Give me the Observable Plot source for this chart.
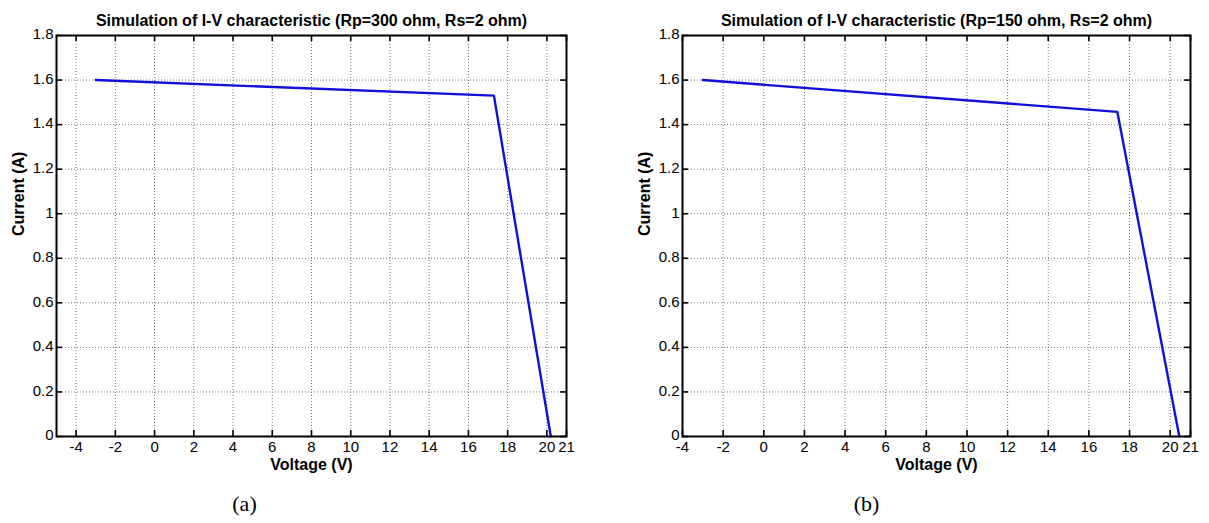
<!DOCTYPE html>
<html>
<head>
<meta charset="utf-8">
<script src="https://cdn.jsdelivr.net/npm/d3@7"></script>
<script src="https://cdn.jsdelivr.net/npm/@observablehq/plot@0.6"></script>
<style>
  html, body { margin: 0; padding: 0; background: #fff; }
  #wrap { display: flex; flex-direction: row; width: 1209px; height: 523px; overflow: hidden; }
  svg { display: block; }
</style>
</head>
<body>
<div id="wrap"></div>
<script>
// Panel (a): Rp = 300 ohm
const voltageA = [-3, 17.3, 20.2];
const currentA = [1.6, 1.53, 0];
// Panel (b): Rp = 150 ohm
const voltageB = [-3, 17.4, 20.45];
const currentB = [1.6, 1.457, 0];

const titleA = "Simulation of I-V characteristic (Rp=300 ohm, Rs=2 ohm)";
const titleB = "Simulation of I-V characteristic (Rp=150 ohm, Rs=2 ohm)";
const captionA = "(a)";
const captionB = "(b)";
const xLabel = "Voltage (V)";
const yLabel = "Current (A)";

const xTicks = [-4, -2, 0, 2, 4, 6, 8, 10, 12, 14, 16, 18, 20, 21];
const yTicks = [0, 0.2, 0.4, 0.6, 0.8, 1, 1.2, 1.4, 1.6, 1.8];
const xDomainA = [-5, 21];
const xDomainB = [-4, 21];
const yDomain = [0, 1.8];

const SANS = "'Liberation Sans', Arial, sans-serif";
const SERIF = "'Liberation Serif', 'Times New Roman', serif";

function panel({volt, curr, title, caption, xDomain, width, marginLeft, marginRight, captionDx}) {
  const data = volt.map((v, i) => ({v, c: curr[i]}));
  const marginTop = 35, marginBottom = 87, height = 523;
  const plotH = height - marginTop - marginBottom;
  const plotW = width - marginLeft - marginRight;
  const tk = 6;
  return Plot.plot({
    width, height, marginTop, marginBottom, marginLeft, marginRight,
    style: {fontFamily: SANS, fontSize: "15px", color: "#000", background: "#fff"},
    x: {domain: xDomain, axis: null},
    y: {domain: yDomain, axis: null},
    marks: [
      Plot.gridX(xTicks.filter(t => t > xDomain[0] && t < xDomain[1]), {stroke: "#777", strokeOpacity: 1, strokeDasharray: "1,2", strokeWidth: 1}),
      Plot.gridY(yTicks.filter(t => t > yDomain[0] && t < yDomain[1]), {stroke: "#777", strokeOpacity: 1, strokeDasharray: "1,2", strokeWidth: 1}),
      Plot.tickX(xTicks, {x: d => d, insetTop: plotH - tk, stroke: "#000", strokeWidth: 1.6}),
      Plot.tickX(xTicks, {x: d => d, insetBottom: plotH - tk, stroke: "#000", strokeWidth: 1.6}),
      Plot.tickY(yTicks, {y: d => d, insetRight: plotW - tk, stroke: "#000", strokeWidth: 1.6}),
      Plot.tickY(yTicks, {y: d => d, insetLeft: plotW - tk, stroke: "#000", strokeWidth: 1.6}),
      Plot.text(xTicks, {x: d => d, text: d => String(d), frameAnchor: "bottom", dy: 15, fontSize: 15, fontFamily: SANS}),
      Plot.text(yTicks, {y: d => d, text: d => String(d), frameAnchor: "left", textAnchor: "end", dx: -3, dy: -1, fontSize: 15, fontFamily: SANS}),
      Plot.line(data, {x: "v", y: "c", stroke: "#1010d8", strokeWidth: 2.4}),
      Plot.frame({stroke: "#000", strokeWidth: 2}),
      Plot.text([title], {text: d => d, frameAnchor: "top", dy: -21, fontWeight: "bold", fontSize: 16, fontFamily: SANS}),
      Plot.text([xLabel], {text: d => d, frameAnchor: "bottom", dy: 33, fontWeight: "bold", fontSize: 16, fontFamily: SANS}),
      Plot.text([yLabel], {text: d => d, frameAnchor: "left", dx: -38, rotate: -90, fontWeight: "bold", fontSize: 16, fontFamily: SANS}),
      Plot.text([caption], {text: d => d, frameAnchor: "bottom", dy: 74, dx: captionDx, fontSize: 22, fontFamily: SERIF})
    ]
  });
}

const wrap = document.getElementById("wrap");
wrap.appendChild(panel({volt: voltageA, curr: currentA, title: titleA, caption: captionA, xDomain: xDomainA, width: 604, marginLeft: 56, marginRight: 38, captionDx: -67}));
wrap.appendChild(panel({volt: voltageB, curr: currentB, title: titleB, caption: captionB, xDomain: xDomainB, width: 605, marginLeft: 78, marginRight: 19, captionDx: -70}));
</script>
</body>
</html>
